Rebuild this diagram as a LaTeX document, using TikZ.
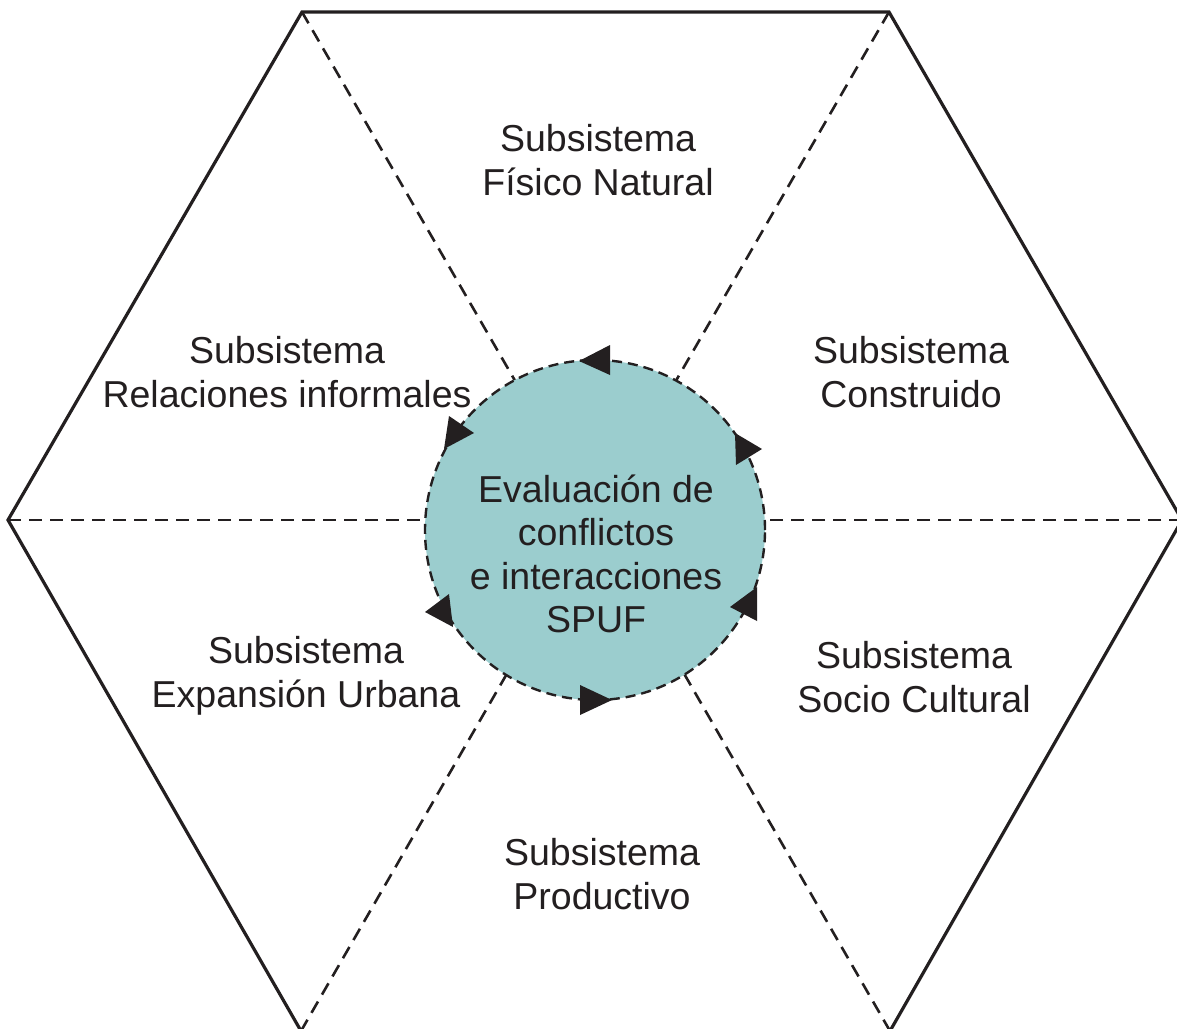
\documentclass[tikz,border=0pt]{standalone}
\usepackage{fontspec}
\setmainfont{Liberation Sans}
\definecolor{txt}{RGB}{35,31,32}
\definecolor{teal}{RGB}{155,205,206}
\begin{document}
\begin{tikzpicture}[x=1pt,y=-1pt,
  hexline/.style={draw=txt,line width=3.2pt,line join=miter},
  spoke/.style={draw=txt,line width=2.6pt,dash pattern=on 13pt off 8pt},
  lbl/.style={align=center,text=txt,font=\fontsize{37.5}{43.5}\selectfont,inner sep=0pt},
  tri/.style={fill=txt}]
\useasboundingbox (0,0) rectangle (1177,1028);
\clip (0,0) rectangle (1177,1028);
\fill[white] (0,0) rectangle (1177,1028);
\coordinate (c) at (595.5,520);
\coordinate (v1) at (302,12);
\coordinate (v2) at (889,12);
\coordinate (v3) at (1182,520);
\coordinate (v4) at (890,1031);
\coordinate (v5) at (301,1031);
\coordinate (v6) at (8,520);
\foreach \v in {v1,v2,v3,v4,v5,v6}{\draw[spoke] (\v) -- (c);}
\draw[hexline] (v1) -- (v2) -- (v3) -- (v4) -- (v5) -- (v6) -- cycle;
\node[circle,minimum size=340pt,inner sep=0pt,fill=teal,draw=txt,line width=2.4pt,dash pattern=on 10pt off 6pt] (circ) at (595,530) {};
\node[lbl] (center) at (596,554) {Evaluación de\\conflictos\\e interacciones\\SPUF};
\node[lbl] (fn) at (598,160) {Subsistema\\Físico Natural};
\node[lbl] (ri) at (287,372) {Subsistema\\Relaciones informales};
\node[lbl] (co) at (911,372) {Subsistema\\Construido};
\node[lbl] (eu) at (306,676) {Subsistema\\Expansión Urbana};
\node[lbl] (sc) at (914,677) {Subsistema\\Socio Cultural};
\node[lbl] (pr) at (602,874) {Subsistema\\Productivo};
\fill[tri] (579,361) -- (610,345) -- (610,375) -- cycle;
\fill[tri] (735,433) -- (762,449) -- (736,465) -- cycle;
\fill[tri] (757,587) -- (730,607) -- (757,621) -- cycle;
\fill[tri] (425,612) -- (449,594) -- (453,627) -- cycle;
\fill[tri] (449,416) -- (474,433) -- (444,449) -- cycle;
\fill[tri] (580,685) -- (612,700) -- (580,715) -- cycle;
\end{tikzpicture}
\end{document}
